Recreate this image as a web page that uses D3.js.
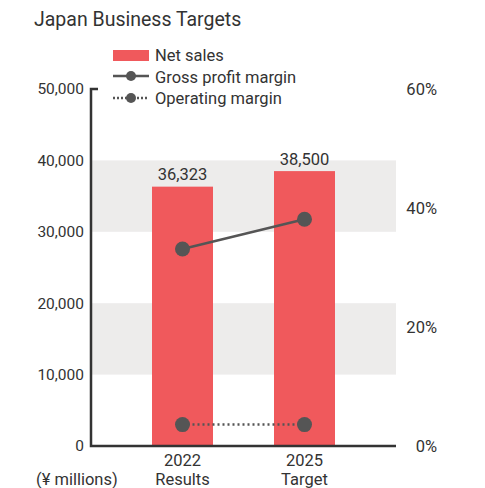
<!DOCTYPE html>
<html>
<head>
<meta charset="utf-8">
<script src="https://cdn.jsdelivr.net/npm/d3@7"></script>
<style>
  body { margin:0; background:#fff; }
  text { font-family: Roboto, "Noto Sans", sans-serif; fill:#333; }
</style>
</head>
<body>
<div id="chart"></div>
<script>
var categories = ["2022", "2025"];
var catSub = ["Results", "Target"];
var netSales = [36323, 38500];
var grossMargin = [33.1, 38.1];
var opMargin = [3.6, 3.6];
var salesTicks = [0, 10000, 20000, 30000, 40000, 50000];
var pctTicks = [0, 20, 40, 60];
var bands = [[10000, 20000], [30000, 40000]];

var W = 485, H = 488;
var margin = {top:89, right:89, bottom:42, left:91};
var w = W - margin.left - margin.right;
var h = H - margin.top - margin.bottom;

var svg = d3.select("#chart").append("svg")
  .attr("width", W)
  .attr("height", H);

svg.append("text")
  .attr("x", 34).attr("y", 26)
  .style("font-size", "19.5px")
  .text("Japan Business Targets");

var g = svg.append("g")
  .attr("transform", "translate(" + margin.left + "," + margin.top + ")");

var x = d3.scaleBand()
  .domain(categories)
  .range([0, w])
  .paddingInner(0.5)
  .paddingOuter(0.5);

var yL = d3.scaleLinear().domain([0, 50000]).range([h, 0]);
var yR = d3.scaleLinear().domain([0, 60]).range([h, 0]);

// grey bands
g.selectAll(".band")
  .data(bands)
  .enter().append("rect")
  .attr("x", 0)
  .attr("width", w)
  .attr("y", function(d){ return yL(d[1]); })
  .attr("height", function(d){ return yL(d[0]) - yL(d[1]); })
  .attr("fill", "#edeceb");

// bars
g.selectAll(".bar")
  .data(netSales)
  .enter().append("rect")
  .attr("x", function(d,i){ return x(categories[i]); })
  .attr("width", x.bandwidth())
  .attr("y", function(d){ return yL(d); })
  .attr("height", function(d){ return h - yL(d); })
  .attr("fill", "#f0595c");

g.selectAll(".barlabel")
  .data(netSales)
  .enter().append("text")
  .attr("x", function(d,i){ return x(categories[i]) + x.bandwidth()/2; })
  .attr("y", function(d){ return yL(d) - 6.5; })
  .attr("text-anchor", "middle")
  .style("font-size", "16.5px")
  .text(d3.format(","));

// left axis
var axL = d3.axisLeft(yL).tickValues(salesTicks).tickSize(0).tickPadding(7)
  .tickFormat(d3.format(","));
var gl = g.append("g").call(axL);
gl.select(".domain").remove();
gl.selectAll("text").style("font-size", "15.5px").style("fill", "#333")
  .style("font-family", "Roboto, 'Noto Sans', sans-serif");

g.append("path")
  .attr("d", "M7,0H0V" + h + "H" + w)
  .attr("fill", "none")
  .attr("stroke", "#333")
  .attr("stroke-width", 2.5);

// right axis labels
var axR = d3.axisRight(yR).tickValues(pctTicks).tickSize(0).tickPadding(0)
  .tickFormat(function(d){ return d + "%"; });
var gr = g.append("g").attr("transform", "translate(" + (w + 41) + ",0)").call(axR);
gr.select(".domain").remove();
gr.selectAll("text").attr("text-anchor", "end").style("font-size", "16.5px").style("fill", "#333")
  .style("font-family", "Roboto, 'Noto Sans', sans-serif");

// bottom labels
var xl = g.selectAll(".xlab")
  .data(categories)
  .enter().append("text")
  .attr("x", function(d){ return x(d) + x.bandwidth()/2; })
  .attr("y", h + 20)
  .attr("text-anchor", "middle")
  .style("font-size", "16.5px");
xl.append("tspan").text(function(d){ return d; });
xl.append("tspan")
  .attr("x", function(d){ return x(d) + x.bandwidth()/2; })
  .attr("dy", 18.5)
  .text(function(d,i){ return catSub[i]; });

svg.append("text")
  .attr("x", 36).attr("y", 485)
  .style("font-size", "16.5px")
  .text("(¥ millions)");

// lines
var cx = function(d,i){ return x(categories[i]) + x.bandwidth()/2; };
var line = d3.line().x(cx).y(function(d){ return yR(d); });

g.append("path").datum(grossMargin)
  .attr("d", line).attr("fill", "none")
  .attr("stroke", "#555").attr("stroke-width", 2.5);
g.selectAll(".gp").data(grossMargin).enter().append("circle")
  .attr("cx", cx).attr("cy", function(d){ return yR(d); })
  .attr("r", 7.5).attr("fill", "#555");

g.append("path").datum(opMargin)
  .attr("d", line).attr("fill", "none")
  .attr("stroke", "#555").attr("stroke-width", 2.5)
  .attr("stroke-dasharray", "2,3");
g.selectAll(".op").data(opMargin).enter().append("circle")
  .attr("cx", cx).attr("cy", function(d){ return yR(d); })
  .attr("r", 7.5).attr("fill", "#555");

// legend
var legend = svg.append("g").attr("transform", "translate(113,0)");
legend.append("rect").attr("x", 0).attr("y", 50).attr("width", 36).attr("height", 11)
  .attr("fill", "#f0595c");
legend.append("line").attr("x1", 0).attr("x2", 36).attr("y1", 76).attr("y2", 76)
  .attr("stroke", "#555").attr("stroke-width", 2.5);
legend.append("circle").attr("cx", 18).attr("cy", 76).attr("r", 5).attr("fill", "#555");
legend.append("line").attr("x1", 0).attr("x2", 36).attr("y1", 98).attr("y2", 98)
  .attr("stroke", "#555").attr("stroke-width", 2.5).attr("stroke-dasharray", "2,2");
legend.append("circle").attr("cx", 18).attr("cy", 98).attr("r", 5).attr("fill", "#555");
var legendText = ["Net sales", "Gross profit margin", "Operating margin"];
legend.selectAll(".lt").data(legendText).enter().append("text")
  .attr("x", 42)
  .attr("y", function(d,i){ return 61 + i*21.5; })
  .style("font-size", "16.5px")
  .text(function(d){ return d; });
</script>
</body>
</html>
